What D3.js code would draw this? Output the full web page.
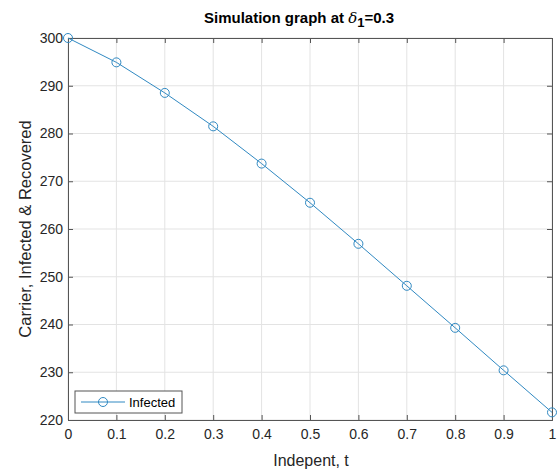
<!DOCTYPE html>
<html>
<head>
<meta charset="utf-8">
<script src="https://cdn.jsdelivr.net/npm/d3@7"></script>
<style>
body { margin: 0; background: #fff; }
svg { font-family: "Liberation Sans", Arial, sans-serif; }
</style>
</head>
<body>
<svg id="chart" width="558" height="472"></svg>
<script>
var tVals = [0, 0.1, 0.2, 0.3, 0.4, 0.5, 0.6, 0.7, 0.8, 0.9, 1];
var infected = [300, 294.9, 288.5, 281.5, 273.7, 265.5, 256.9, 248.1, 239.3, 230.4, 221.6];
var xTicks = [0, 0.1, 0.2, 0.3, 0.4, 0.5, 0.6, 0.7, 0.8, 0.9, 1];
var yTicks = [220, 230, 240, 250, 260, 270, 280, 290, 300];

var svg = d3.select("#chart");
var pLeft = 68, pRight = 552, pTop = 38, pBottom = 420;
var lineColor = "#3089c2";
var axisColor = "#555555";

var x = d3.scaleLinear().domain([0, 1]).range([pLeft, pRight]);
var y = d3.scaleLinear().domain([220, 300]).range([pBottom, pTop]);

//grid
svg.append("g").selectAll("line.gx")
    .data(xTicks)
    .enter().append("line")
    .attr("x1", function (d) { return x(d); })
    .attr("x2", function (d) { return x(d); })
    .attr("y1", pTop).attr("y2", pBottom)
    .attr("stroke", "#e3e3e3").attr("stroke-width", 1);
svg.append("g").selectAll("line.gy")
    .data(yTicks)
    .enter().append("line")
    .attr("y1", function (d) { return y(d); })
    .attr("y2", function (d) { return y(d); })
    .attr("x1", pLeft).attr("x2", pRight)
    .attr("stroke", "#e3e3e3").attr("stroke-width", 1);

//axes, ticks inside
var fmt = function (d) { return d3.format("")(d); };
var xAxis = svg.append("g").attr("transform", "translate(0," + pBottom + ")")
    .call(d3.axisBottom(x).tickValues(xTicks).tickSize(-5).tickPadding(9).tickFormat(fmt));
var xTop = svg.append("g").attr("transform", "translate(0," + pTop + ")")
    .call(d3.axisTop(x).tickValues(xTicks).tickSize(-5).tickFormat(""));
var yAxis = svg.append("g").attr("transform", "translate(" + pLeft + ",0)")
    .call(d3.axisLeft(y).tickValues(yTicks).tickSize(-5).tickPadding(5));
var yRight = svg.append("g").attr("transform", "translate(" + pRight + ",0)")
    .call(d3.axisRight(y).tickValues(yTicks).tickSize(-5).tickFormat(""));

[xAxis, xTop, yAxis, yRight].forEach(function (a) {
    a.selectAll("path").attr("stroke", axisColor);
    a.selectAll("line").attr("stroke", axisColor);
    a.selectAll("text").attr("fill", "#262626").style("font-size", "14px")
        .style("font-family", "'Liberation Sans', Arial, sans-serif");
});

//line
var line = d3.line()
    .x(function (d, i) { return x(tVals[i]); })
    .y(function (d) { return y(d); });
svg.append("path")
    .datum(infected)
    .attr("d", line)
    .attr("fill", "none")
    .attr("stroke", lineColor)
    .attr("stroke-width", 1);

svg.append("g").selectAll("circle")
    .data(infected)
    .enter().append("circle")
    .attr("cx", function (d, i) { return x(tVals[i]); })
    .attr("cy", function (d) { return y(d); })
    .attr("r", 4.5)
    .attr("fill", "none")
    .attr("stroke", lineColor)
    .attr("stroke-width", 1);

//title
var title = svg.append("text")
    .attr("x", 299).attr("y", 23)
    .attr("text-anchor", "middle")
    .style("font-size", "15px").style("font-weight", "bold")
    .attr("fill", "#000");
title.append("tspan").text("Simulation graph at ");
title.append("tspan").text("δ").style("font-style", "italic").style("font-family", "'DejaVu Serif', serif").style("font-weight", "normal");
title.append("tspan").text("1").attr("dy", 4).style("font-size", "13px");
title.append("tspan").text("=0.3").attr("dy", -4);

//axis labels
svg.append("text")
    .attr("x", 311).attr("y", 466)
    .attr("text-anchor", "middle")
    .style("font-size", "16px").attr("fill", "#262626")
    .text("Indepent, t");
svg.append("text")
    .attr("transform", "translate(31," + ((pTop + pBottom) / 2) + ") rotate(-90)")
    .attr("text-anchor", "middle")
    .style("font-size", "16.5px").attr("fill", "#262626")
    .text("Carrier, Infected & Recovered");

//legend
var lg = svg.append("g");
lg.append("rect")
    .attr("x", 75).attr("y", 391).attr("width", 107).attr("height", 22)
    .attr("fill", "#fff").attr("stroke", axisColor).attr("stroke-width", 1);
lg.append("line")
    .attr("x1", 81).attr("x2", 125).attr("y1", 402).attr("y2", 402)
    .attr("stroke", lineColor).attr("stroke-width", 1);
lg.append("circle")
    .attr("cx", 103).attr("cy", 402).attr("r", 4.5)
    .attr("fill", "none").attr("stroke", lineColor);
lg.append("text")
    .attr("x", 129).attr("y", 407)
    .style("font-size", "13px").attr("fill", "#000")
    .text("Infected");
</script>
</body>
</html>
